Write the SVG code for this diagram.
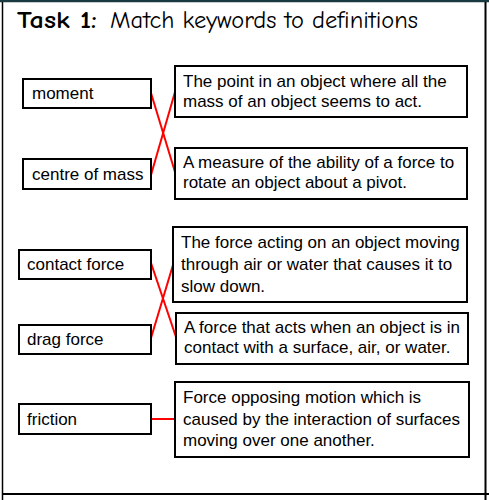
<svg xmlns="http://www.w3.org/2000/svg" width="489" height="500" viewBox="0 0 489 500">
<style>
.box{fill:#fff;stroke:#000;stroke-width:2}
.t{font-family:"Liberation Sans",Arial,sans-serif;font-size:17px;fill:#000}
.title{font-family:"Comic Neue","DejaVu Sans",sans-serif;font-size:24px;fill:#000}
.link{stroke:#ff0000;stroke-width:2;fill:none}
</style>
<rect x="0" y="0" width="489" height="500" fill="#fff"/>
<g id="frame">
<line x1="0" y1="1" x2="489" y2="1" stroke="#1b3940" stroke-width="2.5"/>
<line x1="2.5" y1="2" x2="2.5" y2="500" stroke="#000" stroke-width="1.5"/>
<line x1="485.5" y1="2" x2="485.5" y2="500" stroke="#000" stroke-width="2"/>
<line x1="2" y1="494" x2="489" y2="494" stroke="#000" stroke-width="2"/>
</g>
<g id="title">
<text class="title" x="17" y="28" font-weight="bold" textLength="80" lengthAdjust="spacingAndGlyphs">Task 1:</text>
<text class="title" x="110" y="28" textLength="308" lengthAdjust="spacingAndGlyphs">Match keywords to definitions</text>
</g>
<g id="connectors">
<line class="link" x1="151" y1="93" x2="175" y2="172"/>
<line class="link" x1="151" y1="175" x2="175" y2="92"/>
<line class="link" x1="151" y1="263" x2="176" y2="337"/>
<line class="link" x1="151" y1="338" x2="173" y2="265"/>
<line class="link" x1="151" y1="419" x2="175" y2="419"/>
</g>
<g id="kw-moment"><rect class="box" x="23" y="79" width="128" height="29"/><text class="t" x="32" y="99">moment</text></g>
<g id="kw-centre"><rect class="box" x="23" y="159" width="128" height="30"/><text class="t" x="32" y="180">centre of mass</text></g>
<g id="kw-contact"><rect class="box" x="19" y="250" width="132" height="29"/><text class="t" x="27" y="270">contact force</text></g>
<g id="kw-drag"><rect class="box" x="19" y="325" width="132" height="29"/><text class="t" x="27" y="345">drag force</text></g>
<g id="kw-friction"><rect class="box" x="19" y="404" width="132" height="30"/><text class="t" x="27" y="425">friction</text></g>
<g id="def-1"><rect class="box" x="175" y="66" width="292" height="51"/>
<text class="t" x="183" y="87">The point in an object where all the</text>
<text class="t" x="183" y="107">mass of an object seems to act.</text></g>
<g id="def-2"><rect class="box" x="175" y="148" width="292" height="51"/>
<text class="t" x="183" y="168">A measure of the ability of a force to</text>
<text class="t" x="183" y="188">rotate an object about a pivot.</text></g>
<g id="def-3"><rect class="box" x="173" y="227" width="294" height="75"/>
<text class="t" x="181" y="248">The force acting on an object moving</text>
<text class="t" x="181" y="270">through air or water that causes it to</text>
<text class="t" x="181" y="292">slow down.</text></g>
<g id="def-4"><rect class="box" x="176" y="313" width="292" height="51"/>
<text class="t" x="184" y="333">A force that acts when an object is in</text>
<text class="t" x="184" y="353">contact with a surface, air, or water.</text></g>
<g id="def-5"><rect class="box" x="175" y="382" width="294" height="75"/>
<text class="t" x="183" y="403">Force opposing motion which is</text>
<text class="t" x="183" y="425">caused by the interaction of surfaces</text>
<text class="t" x="183" y="446">moving over one another.</text></g>
</svg>
